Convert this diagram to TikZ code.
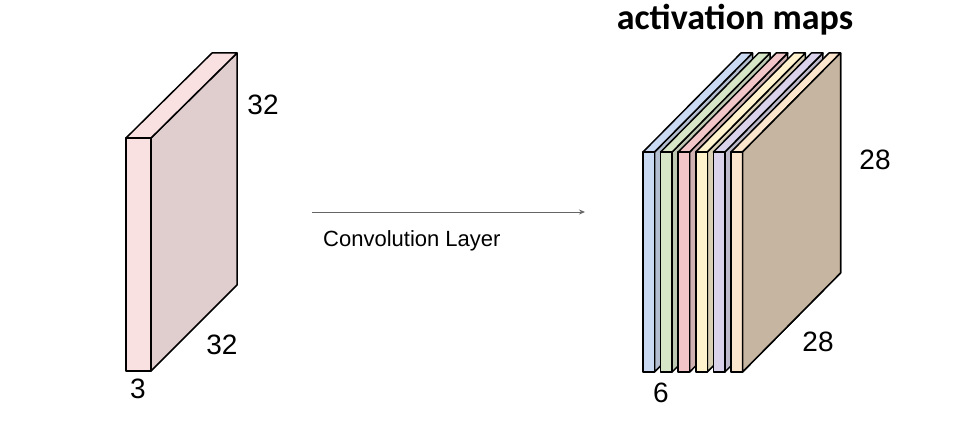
\documentclass[tikz,border=0pt]{standalone}
\usepackage{fontspec}
\setmainfont{Liberation Sans}
\newfontfamily\calib{Carlito}
\usetikzlibrary{positioning,arrows.meta}
\definecolor{inFront}{HTML}{F9E1E1}
\definecolor{inSide}{HTML}{E0CECE}
\definecolor{mapSide}{HTML}{C6B5A1}
\definecolor{mapA}{HTML}{C9DAF2}
\definecolor{mapB}{HTML}{D8E6C8}
\definecolor{mapC}{HTML}{F2C6C8}
\definecolor{mapD}{HTML}{FFF2CC}
\definecolor{mapE}{HTML}{D9D2EA}
\definecolor{mapF}{HTML}{FCE5CD}
\tikzset{
    face/.style={draw=black, line width=1.5pt, line join=round},
    dimlabel/.style={font=\fontsize{28}{30}\selectfont, inner sep=0pt}
}
\begin{document}
\begin{tikzpicture}[x=1pt, y=-1pt]
    \useasboundingbox (0,0) rectangle (965,428);

    % input volume
    \filldraw[face, fill=inSide] (151,138) -- (237,53) -- (237,285) -- (151,371) -- cycle;
    \filldraw[face, fill=inFront] (126,138) -- (212,53) -- (237,53) -- (151,138) -- cycle;
    \filldraw[face, fill=inFront] (126,138) rectangle (151,371);

    \node[dimlabel] (inH) at (263,105) {32};
    \node[dimlabel] (inW) at (222,345) {32};
    \node[dimlabel] (inD) at (138,389) {3};

    % convolution arrow
    \coordinate (convStart) at (312,212);
    \coordinate (convEnd) at (585,212);
    \draw[gray!80!black, line width=0.8pt, -{Stealth[length=6pt, width=5pt]}] (convStart) -- (convEnd);
    \node[font=\fontsize{22}{24}\selectfont, below=29pt of convStart, anchor=west, xshift=11pt, inner sep=0pt] (convLabel) {Convolution Layer};

    % activation maps
    \foreach \c [count=\i from 0] in {mapA,mapB,mapC,mapD,mapE,mapF} {
        \pgfmathsetmacro{\xl}{643+17.6*\i}
        \pgfmathsetmacro{\xr}{\xl+11.5}
        \filldraw[face, fill=\c!70!gray] (\xr,152) -- (\xr+98,53) -- (\xr+98,273) -- (\xr,372) -- cycle;
        \filldraw[face, fill=\c] (\xl,152) -- (\xl+98,53) -- (\xr+98,53) -- (\xr,152) -- cycle;
        \filldraw[face, fill=\c] (\xl,152) rectangle (\xr,372);
    }
    \filldraw[face, fill=mapSide] (742.5,152) -- (840.5,53) -- (840.5,273) -- (742.5,372) -- cycle;

    \node[dimlabel] (mapH) at (875,160) {28};
    \node[dimlabel] (mapW) at (818,342) {28};
    \node[dimlabel] (mapD) at (661,393) {6};
    \node[font=\calib\bfseries\fontsize{36}{38}\selectfont, inner sep=0pt] (mapTitle) at (735,20) {activation maps};
\end{tikzpicture}
\end{document}
